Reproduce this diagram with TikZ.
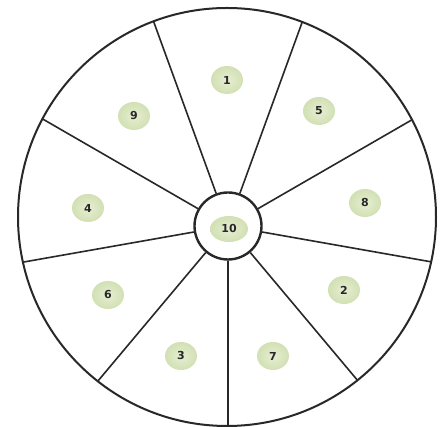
\documentclass[tikz,border=0pt]{standalone}
\usepackage{fontspec}
\setmainfont{DejaVu Sans}
\usetikzlibrary{shapes.geometric,intersections,calc}
\definecolor{blobin}{RGB}{230,238,210}
\definecolor{blobout}{RGB}{210,224,180}
\definecolor{ink}{RGB}{40,40,40}
\begin{document}
\begin{tikzpicture}[x=1pt,y=1pt,
  blob/.style={ellipse, minimum width=32, minimum height=28, inner sep=0pt,
    inner color=blobin, outer color=blobout,
    font=\fontsize{11}{13}\selectfont\bfseries, text=ink},
  ring/.style={draw=ink, line width=2pt},
  spoke/.style={draw=ink, line width=1.6pt}]
\useasboundingbox (0,0) rectangle (442,427);
\fill[white] (0,0) rectangle (442,427);
\coordinate (O) at (227,210);
\coordinate (C) at (228,201);
\path[name path global=outer] (O) circle[radius=209];
\node[circle, draw=ink, line width=2.4pt, minimum size=67, inner sep=0pt, fill=white] (hub) at (C) {};
\foreach \a in {-90,-50,...,230} {
  \path[name path=ray] (C) -- ++(\a:300);
  \draw[spoke, name intersections={of=ray and outer, by=E}] (hub.\a) -- (E);
}
\draw[ring] (O) circle[radius=209];
\node[blob] (n1) at (227,347) {1};
\node[blob] (n5) at (319,316) {5};
\node[blob] (n9) at (134,311) {9};
\node[blob] (n8) at (365,224) {8};
\node[blob] (n4) at (88,219) {4};
\node[blob, minimum width=38, minimum height=26] (n10) at (229,198) {10};
\node[blob] (n2) at (344,137) {2};
\node[blob] (n6) at (108,132) {6};
\node[blob] (n3) at (181,71) {3};
\node[blob] (n7) at (273,71) {7};
\end{tikzpicture}
\end{document}
